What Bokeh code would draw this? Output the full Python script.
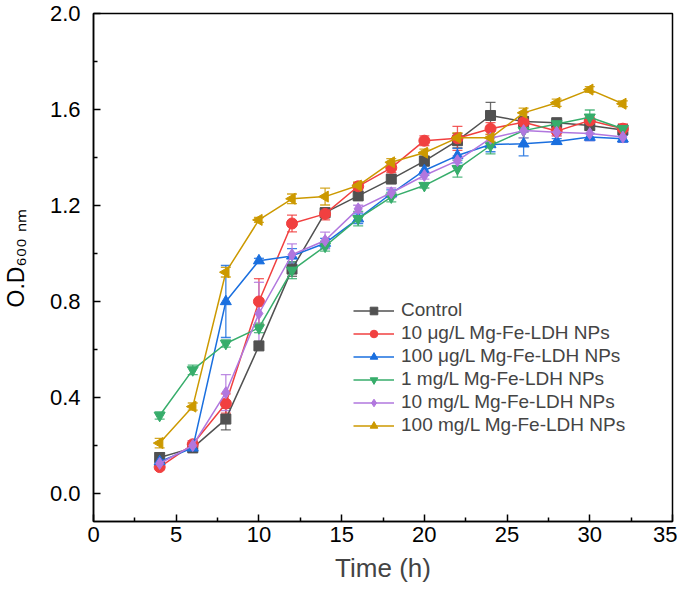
import numpy as np
from bokeh.plotting import figure
from bokeh.models import (ColumnDataSource, Whisker, TeeHead, Legend, LegendItem,
                          FixedTicker, PrintfTickFormatter, Title, Range1d)
from bokeh.embed import file_html
from bokeh.resources import INLINE

time_h = [4, 6, 8, 10, 12, 14, 16, 18, 20, 22, 24, 26, 28, 30, 32]

series_names = ["Control", "10 μg/L Mg-Fe-LDH NPs", "100 μg/L Mg-Fe-LDH NPs",
                "1 mg/L Mg-Fe-LDH NPs", "10 mg/L Mg-Fe-LDH NPs", "100 mg/L Mg-Fe-LDH NPs"]

control = [0.15, 0.19, 0.31, 0.615, 0.935, 1.17, 1.24, 1.31, 1.385, 1.47, 1.575, 1.55, 1.545, 1.533, 1.515]
control_err = [0.02, 0.015, 0.045, 0.015, 0.03, 0.02, 0.015, 0.015, 0.02, 0.03, 0.055, 0.02, 0.015, 0.02, 0.02]

ug10 = [0.11, 0.205, 0.375, 0.80, 1.125, 1.165, 1.28, 1.357, 1.47, 1.48, 1.52, 1.547, 1.51, 1.554, 1.52]
ug10_err = [0.01, 0.015, 0.04, 0.095, 0.035, 0.025, 0.015, 0.02, 0.02, 0.05, 0.025, 0.04, 0.02, 0.02, 0.02]

ug100 = [0.133, 0.19, 0.80, 0.97, 0.99, 1.043, 1.145, 1.25, 1.346, 1.408, 1.454, 1.457, 1.467, 1.485, 1.478]
ug100_err = [0.01, 0.015, 0.15, 0.01, 0.03, 0.02, 0.02, 0.015, 0.02, 0.03, 0.03, 0.05, 0.012, 0.015, 0.015]

mg1 = [0.325, 0.515, 0.625, 0.69, 0.93, 1.03, 1.145, 1.235, 1.283, 1.353, 1.45, 1.512, 1.54, 1.568, 1.52]
mg1_err = [0.015, 0.02, 0.015, 0.02, 0.035, 0.02, 0.03, 0.02, 0.01, 0.035, 0.035, 0.03, 0.015, 0.03, 0.015]

mg10 = [0.125, 0.20, 0.42, 0.75, 0.995, 1.054, 1.186, 1.253, 1.325, 1.387, 1.48, 1.512, 1.505, 1.50, 1.485]
mg10_err = [0.015, 0.02, 0.075, 0.13, 0.045, 0.035, 0.015, 0.02, 0.015, 0.02, 0.03, 0.03, 0.015, 0.03, 0.02]

mg100 = [0.21, 0.362, 0.922, 1.14, 1.228, 1.237, 1.283, 1.38, 1.42, 1.482, 1.482, 1.586, 1.628, 1.683, 1.624]
mg100_err = [0.02, 0.015, 0.02, 0.01, 0.02, 0.035, 0.015, 0.015, 0.015, 0.02, 0.015, 0.02, 0.015, 0.012, 0.012]

x_ticks = [0, 5, 10, 15, 20, 25, 30, 35]
y_ticks = [0.0, 0.4, 0.8, 1.2, 1.6, 2.0]

colors = ["#515151", "#F14040", "#1A6FDF", "#37AD6B", "#B177DE", "#CC9900"]
markers = ["square", "circle", "triangle", "inverted_triangle", "diamond", "triangle"]
angles = [0, 0, 0, 0, 0, np.pi / 2]
sizes = [10, 11, 11, 11, 12, 11]

values = [control, ug10, ug100, mg1, mg10, mg100]
errors = [control_err, ug10_err, ug100_err, mg1_err, mg10_err, mg100_err]

FONT = "Liberation Sans"

p = figure(width=677, height=588, output_backend="svg", toolbar_location=None,
           x_range=Range1d(0, 35), y_range=Range1d(-0.1167, 2.0),
           min_border_left=92, min_border_right=5, min_border_top=13, min_border_bottom=67)
p.grid.visible = False
p.background_fill_color = "white"
p.border_fill_color = "white"
p.outline_line_color = "black"
p.outline_line_width = 1.5

for ax in (p.xaxis[0], p.yaxis[0]):
    ax.axis_line_width = 1.5
    ax.major_tick_line_width = 1.5
    ax.minor_tick_line_width = 1.5
    ax.major_tick_in = 7
    ax.major_tick_out = 0
    ax.minor_tick_in = 4
    ax.minor_tick_out = 0
    ax.major_label_text_font = FONT
    ax.major_label_text_font_size = "22px"
    ax.major_label_text_color = "black"
    ax.axis_label_text_font = FONT
    ax.axis_label_text_font_style = "normal"

p.xaxis.ticker = FixedTicker(ticks=x_ticks, minor_ticks=[t + 2.5 for t in x_ticks[:-1]])
p.yaxis.ticker = FixedTicker(ticks=y_ticks, minor_ticks=[t + 0.2 for t in y_ticks[:-1]])
p.yaxis.formatter = PrintfTickFormatter(format="%.1f")
p.xaxis.major_label_standoff = 5
p.yaxis.major_label_standoff = 13
p.xaxis.axis_label = "Time (h)"
p.xaxis.axis_label_text_font_size = "26px"
p.xaxis.axis_label_standoff = 8
# blank spacer label so the y title sits at the far left
p.yaxis.axis_label = " "
p.yaxis.axis_label_text_font_size = "10px"
p.yaxis.axis_label_standoff = 4

items = []
for name, vals, errs, col, mk, ang, sz in zip(series_names, values, errors, colors, markers, angles, sizes):
    src = ColumnDataSource(dict(x=time_h, y=vals,
                                upper=[v + e for v, e in zip(vals, errs)],
                                lower=[v - e for v, e in zip(vals, errs)]))
    w = Whisker(base="x", upper="upper", lower="lower", source=src,
                line_color=col, line_width=1.3, line_alpha=0.85,
                upper_head=TeeHead(size=10, line_color=col, line_width=1.3, line_alpha=0.85),
                lower_head=TeeHead(size=10, line_color=col, line_width=1.3, line_alpha=0.85))
    p.add_layout(w)
    r_line = p.line("x", "y", source=src, line_color=col, line_width=1.5)
    r_sc = p.scatter("x", "y", source=src, marker=mk, angle=ang, size=sz,
                     fill_color=col, line_color=col)
    items.append(LegendItem(label=name, renderers=[r_line, r_sc]))

legend = Legend(items=items, location=(260, 85), border_line_color=None,
                background_fill_alpha=0, padding=0, margin=0, spacing=1,
                glyph_width=41, glyph_height=19, label_height=19, label_standoff=7,
                label_text_font=FONT, label_text_font_size="19px")
p.add_layout(legend)

# y axis title (with subscript) as a vertical title on the left
ytitle = Title(text="O.D₆₀₀ ₙₘ", align="left", offset=214, standoff=0,
               text_font=FONT, text_font_size="23px", text_font_style="normal",
               text_color="black")
p.add_layout(ytitle, "left")

open("out.html", "w").write(file_html(p, INLINE))
